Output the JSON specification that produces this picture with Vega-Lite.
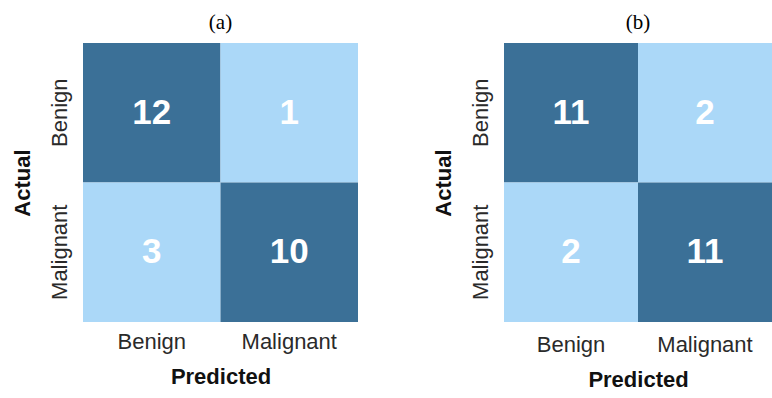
{
  "$schema": "https://vega.github.io/schema/vega-lite/v6.json",
  "datasets": {
    "a": [
      {"actual": "Benign", "predicted": "Benign", "count": 12},
      {"actual": "Benign", "predicted": "Malignant", "count": 1},
      {"actual": "Malignant", "predicted": "Benign", "count": 3},
      {"actual": "Malignant", "predicted": "Malignant", "count": 10}
    ],
    "b": [
      {"actual": "Benign", "predicted": "Benign", "count": 11},
      {"actual": "Benign", "predicted": "Malignant", "count": 2},
      {"actual": "Malignant", "predicted": "Benign", "count": 2},
      {"actual": "Malignant", "predicted": "Malignant", "count": 11}
    ]
  },
  "padding": {"left": 11, "top": 12, "right": 0, "bottom": 0},
  "spacing": 74,
  "config": {
    "view": {"stroke": null},
    "font": "Liberation Sans",
    "title": {"font": "Liberation Serif", "fontSize": 21, "fontWeight": "normal", "color": "#000", "offset": 10},
    "axis": {
      "domain": false, "ticks": false, "grid": false,
      "labelFont": "Liberation Sans", "labelFontSize": 22, "labelColor": "#2a2a2a",
      "titleFont": "Liberation Sans", "titleFontSize": 22, "titleFontWeight": "bold", "titleColor": "#111"
    }
  },
  "hconcat": [
    {
      "title": "(a)",
      "width": 275,
      "height": 279,
      "data": {"name": "a"},
      "encoding": {
        "x": {"field": "predicted", "type": "nominal", "sort": ["Benign", "Malignant"], "title": "Predicted",
              "scale": {"paddingInner": 0, "paddingOuter": 0},
              "axis": {"labelAngle": 0, "labelPadding": 9, "titlePadding": 14}},
        "y": {"field": "actual", "type": "nominal", "sort": ["Benign", "Malignant"], "title": "Actual",
              "scale": {"paddingInner": 0, "paddingOuter": 0},
              "axis": {"labelAngle": -90, "labelPadding": 12, "titlePadding": 14}}
      },
      "layer": [
        {"mark": {"type": "rect"},
         "encoding": {"color": {"field": "count", "type": "quantitative",
           "scale": {"type": "threshold", "domain": [6], "range": ["#abd8f8", "#3b7097"]}, "legend": null}}},
        {"mark": {"type": "text", "font": "Liberation Sans", "fontSize": 35, "fontWeight": "bold", "color": "white"},
         "encoding": {"text": {"field": "count", "type": "quantitative"}}}
      ]
    },
    {
      "title": "(b)",
      "width": 268,
      "height": 279,
      "data": {"name": "b"},
      "encoding": {
        "x": {"field": "predicted", "type": "nominal", "sort": ["Benign", "Malignant"], "title": "Predicted",
              "scale": {"paddingInner": 0, "paddingOuter": 0},
              "axis": {"labelAngle": 0, "labelPadding": 12, "titlePadding": 14}},
        "y": {"field": "actual", "type": "nominal", "sort": ["Benign", "Malignant"], "title": "Actual",
              "scale": {"paddingInner": 0, "paddingOuter": 0},
              "axis": {"labelAngle": -90, "labelPadding": 12, "titlePadding": 14}}
      },
      "layer": [
        {"mark": {"type": "rect"},
         "encoding": {"color": {"field": "count", "type": "quantitative",
           "scale": {"type": "threshold", "domain": [6], "range": ["#abd8f8", "#3b7097"]}, "legend": null}}},
        {"mark": {"type": "text", "font": "Liberation Sans", "fontSize": 35, "fontWeight": "bold", "color": "white"},
         "encoding": {"text": {"field": "count", "type": "quantitative"}}}
      ]
    }
  ]
}
